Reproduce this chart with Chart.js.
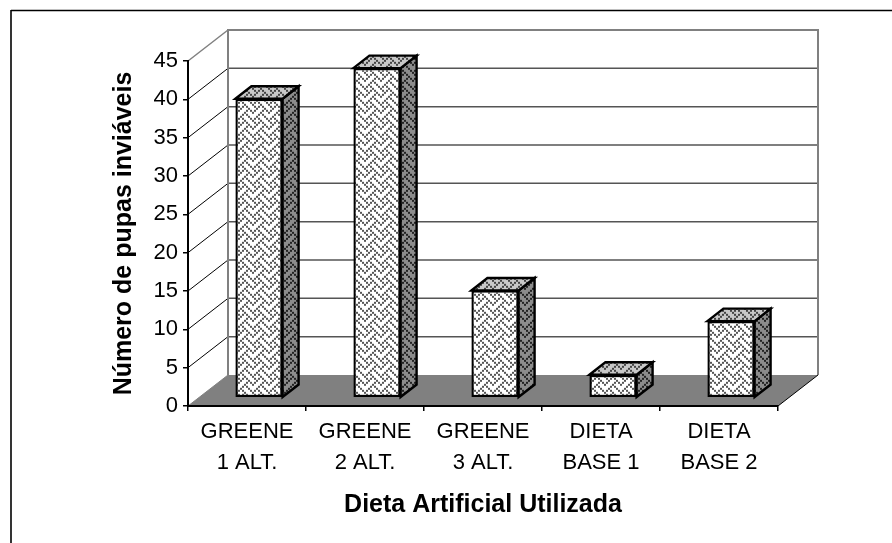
<!DOCTYPE html>
<html>
<head>
<meta charset="utf-8">
<style>
  html, body { margin: 0; padding: 0; background: #fff; }
  canvas { display: block; }
</style>
<script src="https://cdn.jsdelivr.net/npm/chart.js@4/dist/chart.umd.min.js"></script>
</head>
<body>
<canvas id="chart" width="892" height="543"></canvas>
<script>
const categories = [["GREENE", "1 ALT."], ["GREENE", "2 ALT."], ["GREENE", "3 ALT."], ["DIETA", "BASE 1"], ["DIETA", "BASE 2"]];
const pupas = [39, 43, 14, 3, 10];
const yMax = 45;
const yStep = 5;

// 3d offsets of the old spreadsheet look
const wallDx = 40, wallDy = -31;
const frontDx = 12, frontDy = -8.2;
const barDx = 16, barDy = -12.5;

// weave hatch, 8x8
const weave = [
    "10001000",
    "01010100",
    "00100010",
    "01000101",
    "10001000",
    "00010100",
    "00100010",
    "01010001"
];

function hatch(bg, fg) {
    const c = document.createElement("canvas");
    c.width = 16;
    c.height = 16;
    const g = c.getContext("2d");
    g.fillStyle = bg;
    g.fillRect(0, 0, 16, 16);
    g.fillStyle = fg;
    weave.forEach(function (row, r) {
        row.split("").forEach(function (bit, k) {
            if (bit === "1") g.fillRect(k * 2, r * 2, 2, 2);
        });
    });
    return document.getElementById("chart").getContext("2d").createPattern(c, "repeat");
}

const ctx = document.getElementById("chart");
const frontFill = hatch("#ffffff", "#555555");
const sideFill = hatch("#8c8c8c", "#222222");
const topFill = hatch("#c8c8c8", "#444444");

function poly(c, pts, fill, stroke, lw) {
    c.beginPath();
    pts.forEach(function (p, i) {
        if (i === 0) c.moveTo(p[0], p[1]); else c.lineTo(p[0], p[1]);
    });
    c.closePath();
    if (fill) { c.fillStyle = fill; c.fill(); }
    if (stroke) { c.strokeStyle = stroke; c.lineWidth = lw; c.stroke(); }
}

function line(c, x1, y1, x2, y2, color, lw) {
    c.beginPath();
    c.moveTo(x1, y1);
    c.lineTo(x2, y2);
    c.strokeStyle = color;
    c.lineWidth = lw;
    c.stroke();
}

const box3d = {
    id: "box3d",
    beforeDraw(chart) {
        const c = chart.ctx;
        const a = chart.chartArea;
        const y = chart.scales.y;
        c.save();
        // page frame: only top and left are there
        line(c, 11, 10.5, 892, 10.5, "#000", 1.6);
        line(c, 11, 10, 11, 543, "#000", 1.6);
        // floor
        poly(c, [[a.left, a.bottom], [a.left + wallDx, a.bottom + wallDy], [a.right + wallDx, a.bottom + wallDy], [a.right, a.bottom]], "#808080");
        // wall grid + diagonals
        for (let v = 0; v <= yMax; v += yStep) {
            const py = y.getPixelForValue(v);
            const isTop = v === yMax;
            if (v > 0 && !isTop) {
                line(c, a.left + wallDx, py + wallDy, a.right + wallDx, py + wallDy, "#555", 1.5);
            }
            line(c, a.left, py, a.left + wallDx, py + wallDy, isTop || v === 0 ? "#808080" : "#000", isTop ? 1.5 : 1);
        }
        const topY = y.getPixelForValue(yMax) + wallDy;
        const botY = y.getPixelForValue(0) + wallDy;
        line(c, a.left + wallDx, topY, a.right + wallDx, topY, "#808080", 2);
        line(c, a.left + wallDx, topY - 1, a.left + wallDx, botY, "#808080", 2);
        line(c, a.right + wallDx, topY - 1, a.right + wallDx, botY, "#808080", 2);
        line(c, a.right, a.bottom, a.right + wallDx, botY, "#000", 1);
        c.restore();
    },
    beforeDatasetsDraw(chart) {
        const c = chart.ctx;
        c.save();
        c.translate(frontDx, frontDy);
        chart.getDatasetMeta(0).data.forEach(function (bar) {
            const p = bar.getProps(["x", "y", "base", "width"], true);
            const l = p.x - p.width / 2, r = p.x + p.width / 2;
            poly(c, [[r, p.y], [r + barDx, p.y + barDy], [r + barDx, p.base + barDy], [r, p.base]], sideFill, "#000", 2.4);
            poly(c, [[l, p.y], [l + barDx, p.y + barDy], [r + barDx, p.y + barDy], [r, p.y]], topFill, "#000", 2.4);
        });
        // bars themselves get drawn by the library inside this translate
    },
    afterDatasetsDraw(chart) {
        chart.ctx.restore();
    }
};

new Chart(ctx, {
    type: "bar",
    data: {
        labels: categories,
        datasets: [{
            data: pupas,
            backgroundColor: frontFill,
            borderColor: "#000",
            borderWidth: 2.4,
            borderSkipped: false,
            barPercentage: 0.4,
            categoryPercentage: 1,
            clip: false
        }]
    },
    options: {
        responsive: false,
        animation: false,
        layout: { padding: { left: 108, top: 61, right: 114, bottom: 23 } },
        plugins: { legend: { display: false }, tooltip: { enabled: false } },
        scales: {
            x: {
                afterFit(s) { s.height = 114; },
                grid: { drawOnChartArea: false, color: "#000", tickLength: 5, lineWidth: 1.5 },
                border: { color: "#000", width: 2 },
                ticks: {
                    color: "#000",
                    maxRotation: 0,
                    padding: 6,
                    font: { family: "'Liberation Sans'", size: 22, lineHeight: 1.4 }
                },
                title: {
                    display: true,
                    text: "Dieta Artificial Utilizada",
                    color: "#000",
                    padding: { top: 16, bottom: 0 },
                    font: { family: "'Liberation Sans'", size: 25, weight: "bold" }
                }
            },
            y: {
                min: 0,
                max: yMax,
                afterFit(s) { s.width = 80; },
                grid: { drawOnChartArea: false, color: "#000", tickLength: 5, lineWidth: 1.5 },
                border: { color: "#000", width: 2 },
                ticks: {
                    stepSize: yStep,
                    color: "#000",
                    padding: 5,
                    font: { family: "'Liberation Sans'", size: 22 }
                },
                title: {
                    display: true,
                    text: "Número de pupas inviáveis",
                    color: "#000",
                    padding: 1,
                    font: { family: "'Liberation Sans'", size: 25, weight: "bold" }
                }
            }
        }
    },
    plugins: [box3d]
});
</script>
</body>
</html>
